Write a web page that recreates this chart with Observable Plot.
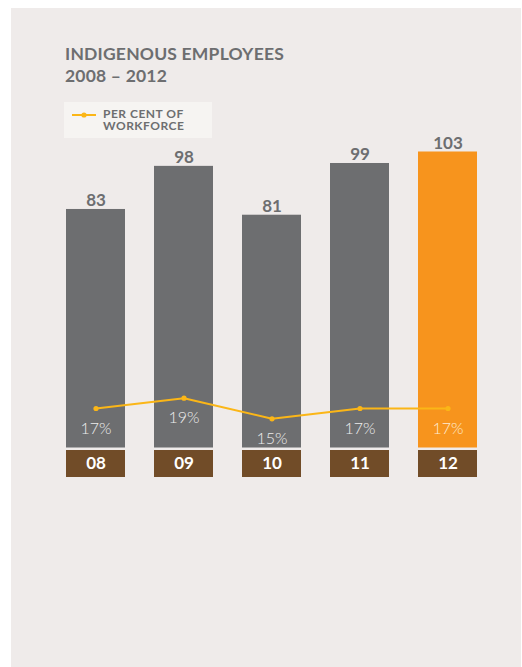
<!DOCTYPE html>
<html>
<head>
<meta charset="utf-8">
<script src="https://cdn.jsdelivr.net/npm/d3@7"></script>
<script src="https://cdn.jsdelivr.net/npm/@observablehq/plot@0.6"></script>
<style>
  html, body { margin: 0; padding: 0; background: #ffffff; width: 522px; height: 667px; overflow: hidden; }
  #page { position: relative; width: 522px; height: 667px; font-family: Lato, "Open Sans", sans-serif; }
  #panel { position: absolute; left: 11px; top: 8px; width: 510px; height: 680px; background: #efebea; }
  #title { position: absolute; left: 65px; top: 43px; font-size: 17.5px; line-height: 22px; color: #6d6e70; font-weight: 700; letter-spacing: 0.2px; }
  #legend { position: absolute; left: 64px; top: 102px; width: 148px; height: 36px; background: #f6f4f2; }
  #legend svg { position: absolute; left: 8px; top: 8px; }
  #legend .lab { position: absolute; left: 39px; top: 6px; font-size: 12px; line-height: 12px; font-weight: 700; color: #6d6e70; letter-spacing: 0.5px; }
  .plot { position: absolute; left: 0; }
</style>
</head>
<body>
<div id="page">
  <div id="panel"></div>
  <div id="title">INDIGENOUS EMPLOYEES<br>2008 – 2012</div>
  <div id="legend">
    <svg width="26" height="12"><line x1="0" y1="5" x2="24" y2="5" stroke="#fbb617" stroke-width="2"/><circle cx="12" cy="5" r="2.6" fill="#fbb617"/></svg>
    <div class="lab">PER CENT OF<br>WORKFORCE</div>
  </div>
</div>
<script>
const years = ["08", "09", "10", "11", "12"];
const employees = [83, 98, 81, 99, 103];
const percents = [17, 19, 15, 17, 17];

const data = years.map((y, i) => ({year: y, count: employees[i], pct: percents[i]}));

const GRAY = "#6d6e70", ORANGE = "#f7941d", BROWN = "#714c28", GOLD = "#fbb617";
const xOpts = {type: "band", domain: years, padding: 1/3, axis: null};
const common = {width: 522, marginLeft: 35.5, marginRight: 14.5, style: {background: "transparent", overflow: "visible", fontFamily: "Lato, 'Open Sans', sans-serif"}};

const page = document.getElementById("page");
function place(svg, top) { svg.classList.add("plot"); svg.style.top = top + "px"; page.appendChild(svg); }

// Bars with value labels
const bars = Plot.plot({
  ...common,
  height: 370, marginTop: 20, marginBottom: 42.5,
  x: xOpts,
  y: {domain: [0, 107], axis: null},
  marks: [
    Plot.barY(data, {x: "year", y: "count", fill: d => d.year === "12" ? ORANGE : GRAY}),
    Plot.text(data, {x: "year", y: "count", text: d => String(d.count), lineAnchor: "bottom", dy: -3,
      fill: GRAY, fontSize: 17, fontWeight: 700})
  ]
});
place(bars, 120);

// Percentage line overlay
const line = Plot.plot({
  ...common,
  height: 90, marginTop: 22.55, marginBottom: 15.95,
  x: xOpts,
  y: {domain: [10, 20], axis: null},
  marks: [
    Plot.line(data, {x: "year", y: "pct", stroke: GOLD, strokeWidth: 2}),
    Plot.dot(data, {x: "year", y: "pct", r: 2.6, fill: GOLD}),
    Plot.text(data, {x: "year", y: "pct", text: d => d.pct + "%", dy: 20,
      fill: d => d.year === "12" ? "#fdebd4" : "#ececec", fontSize: 16, fontWeight: 300})
  ]
});
place(line, 370);

// Year label boxes
const yearsPlot = Plot.plot({
  ...common,
  height: 27, marginTop: 0, marginBottom: 0,
  x: xOpts,
  marks: [
    Plot.cell(years, {x: d => d, fill: BROWN}),
    Plot.text(years, {x: d => d, text: d => d, frameAnchor: "middle", fill: "#ffffff", fontSize: 17, fontWeight: 700})
  ]
});
place(yearsPlot, 450);
</script>
</body>
</html>
